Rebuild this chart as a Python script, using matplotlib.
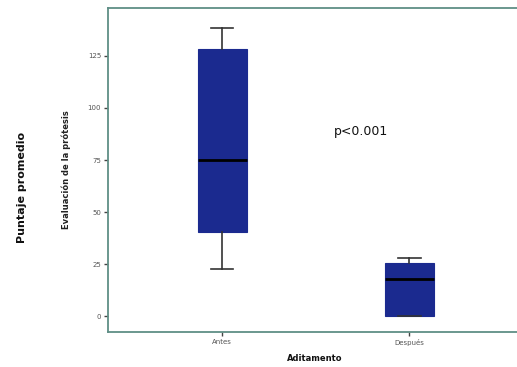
import matplotlib
matplotlib.use("Agg")
import matplotlib.pyplot as plt

# Box plot values
groups = ["Antes", "Después"]
whislo = [22.5, 0.0]
q1 = [40.5, 0.0]
median = [75.0, 18.0]
q3 = [128.5, 25.5]
whishi = [138.5, 28.0]
yticks = [0, 25, 50, 75, 100, 125]

box_color = "#1b2a8f"
spine_color = "#5f8f86"

stats = []
for i, g in enumerate(groups):
    stats.append(dict(label=g, whislo=whislo[i], q1=q1[i], med=median[i],
                      q3=q3[i], whishi=whishi[i], fliers=[]))

fig = plt.figure(figsize=(5.17, 3.67), dpi=100)
ax = fig.add_axes([0.209, 0.095, 0.80, 0.883])

ax.bxp(stats, positions=[1, 2], widths=0.26, patch_artist=True,
       showfliers=False,
       boxprops=dict(facecolor=box_color, edgecolor=box_color, linewidth=0.8),
       medianprops=dict(color="black", linewidth=2),
       whiskerprops=dict(color="#333333", linewidth=1.2),
       capprops=dict(color="#333333", linewidth=1.2),
       capwidths=0.12)

ax.set_xlim(0.39, 2.60)
ax.set_ylim(-7.7, 148)
ax.set_yticks(yticks)
ax.set_yticklabels([str(t) for t in yticks], fontsize=5, color="#555555")
ax.set_xticks([1, 2])
ax.set_xticklabels(groups, fontsize=5, color="#555555")
ax.tick_params(length=3, width=1, color="#444444", pad=2)

for side in ["left", "bottom", "top"]:
    ax.spines[side].set_color(spine_color)
    ax.spines[side].set_linewidth(1.3)
ax.spines["right"].set_visible(False)

ax.set_ylabel("Evaluación de la prótesis", fontsize=6, fontweight="bold",
              color="#222222", labelpad=12)
ax.set_xlabel("Aditamento", fontsize=6, fontweight="bold", color="#111111",
              labelpad=6)

ax.text(1.74, 88.5, "p<0.001", fontsize=9, color="#111111",
        ha="center", va="center")

fig.text(0.043, 0.49, "Puntaje promedio", rotation=90, fontsize=8,
         fontweight="bold", ha="center", va="center", color="#111111")

fig.savefig("out.png", dpi=100)
